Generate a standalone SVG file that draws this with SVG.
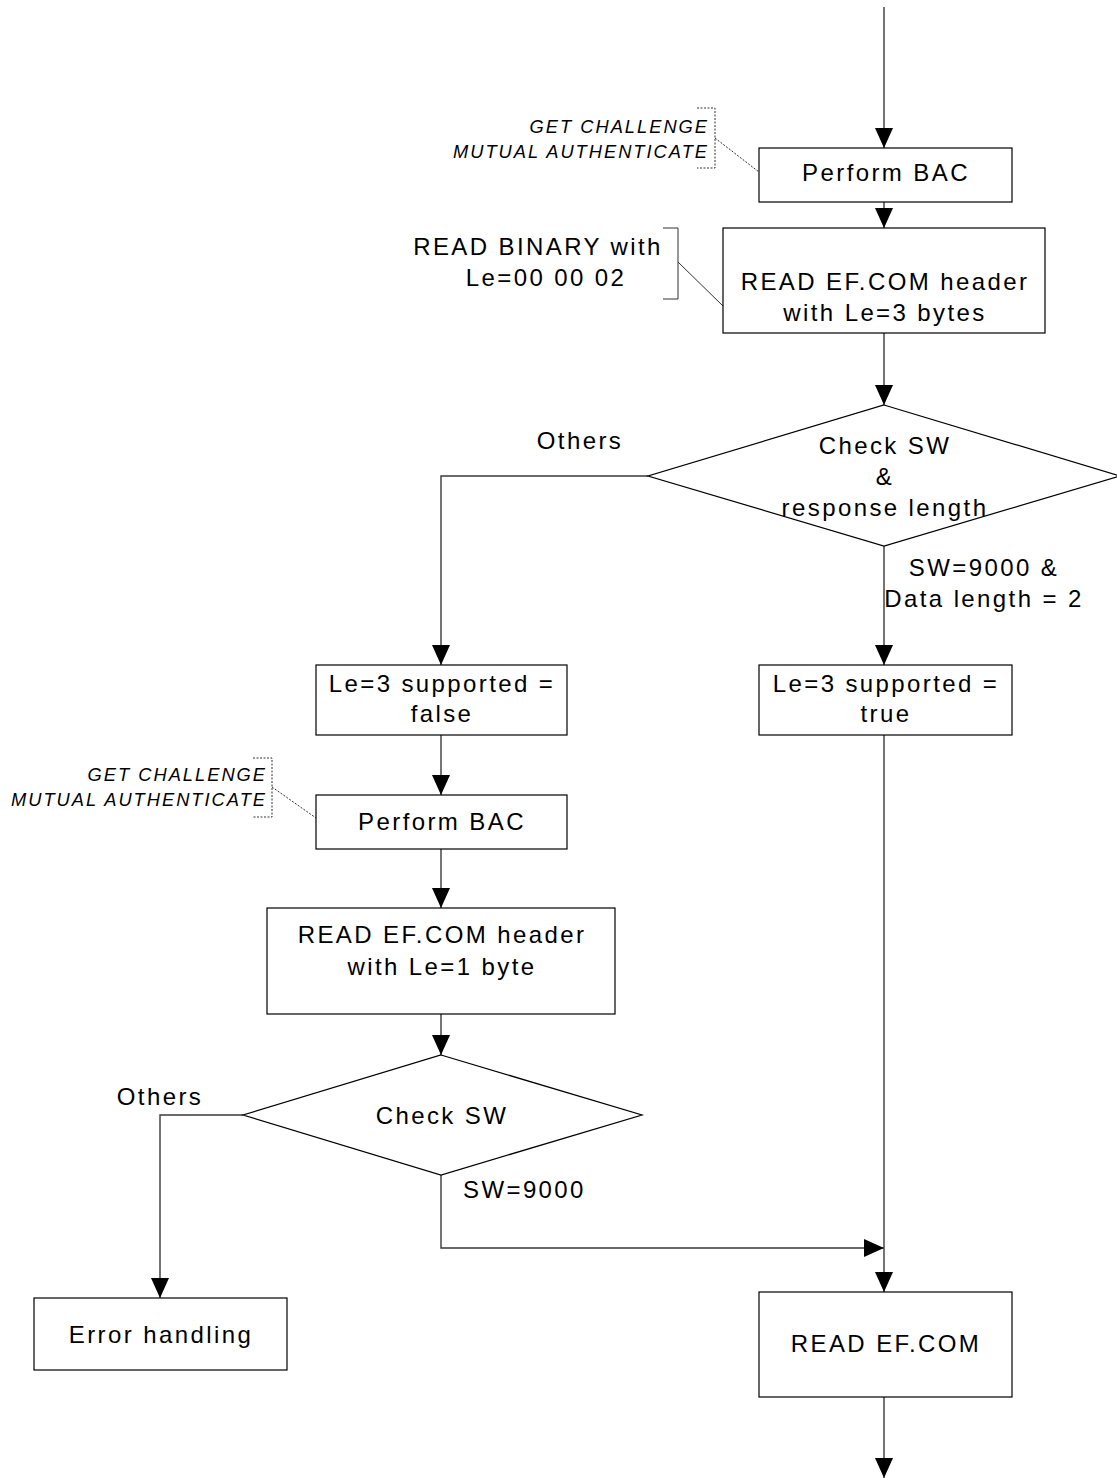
<svg xmlns="http://www.w3.org/2000/svg" width="1117" height="1481" viewBox="0 0 1117 1481">
  <defs>
    <style>
      .box { fill: #fff; stroke: #000; stroke-width: 1.2; }
      .wire { fill: none; stroke: #3a3a3a; stroke-width: 1.4; }
      .note { fill: none; stroke: #333; stroke-width: 1; }
      .dot { fill: none; stroke: #333; stroke-width: 1; stroke-dasharray: 2 1.5; }
      .t { font-family: "Liberation Sans", Arial, sans-serif; font-size: 24px; letter-spacing: 2.4px; fill: #000; text-anchor: middle; }
      .l { text-anchor: start; }
      .i { font-family: "Liberation Sans", Arial, sans-serif; font-size: 18.3px; font-style: italic; letter-spacing: 2px; fill: #000; text-anchor: end; }
    </style>
    <marker id="arrow" markerUnits="userSpaceOnUse" markerWidth="20" markerHeight="20" viewBox="0 0 20 20" refX="20" refY="10" orient="auto">
      <path d="M0,1 L20,10 L0,19 Z" fill="#000"/>
    </marker>
  </defs>
  <rect width="1117" height="1481" fill="#fff"/>

  <!-- connectors -->
  <g id="connectors">
    <line class="wire" x1="884" y1="7" x2="884" y2="148" marker-end="url(#arrow)"/>
    <line class="wire" x1="884" y1="202" x2="884" y2="228" marker-end="url(#arrow)"/>
    <line class="wire" x1="884" y1="333" x2="884" y2="405" marker-end="url(#arrow)"/>
    <polyline class="wire" points="648,476 441,476 441,665" marker-end="url(#arrow)"/>
    <line class="wire" x1="884" y1="546" x2="884" y2="665" marker-end="url(#arrow)"/>
    <line class="wire" x1="441" y1="735" x2="441" y2="795" marker-end="url(#arrow)"/>
    <line class="wire" x1="441" y1="849" x2="441" y2="908" marker-end="url(#arrow)"/>
    <line class="wire" x1="441" y1="1014" x2="441" y2="1055" marker-end="url(#arrow)"/>
    <polyline class="wire" points="243,1115 160,1115 160,1298" marker-end="url(#arrow)"/>
    <polyline class="wire" points="441,1175 441,1248 884,1248" marker-end="url(#arrow)"/>
    <line class="wire" x1="884" y1="735" x2="884" y2="1292" marker-end="url(#arrow)"/>
    <line class="wire" x1="884" y1="1397" x2="884" y2="1478" marker-end="url(#arrow)"/>
  </g>

  <!-- annotations -->
  <g id="note-bac-1">
    <text class="i" x="709" y="133">GET CHALLENGE</text>
    <text class="i" x="709" y="158">MUTUAL AUTHENTICATE</text>
    <polyline class="dot" points="697,108 715,108 715,168 697,168"/>
    <line class="dot" x1="715" y1="138" x2="759" y2="172"/>
  </g>
  <g id="note-read-binary">
    <text class="t" x="538" y="254.5">READ BINARY with</text>
    <text class="t" x="546" y="285.5">Le=00 00 02</text>
    <polyline class="note" points="663,228 678,228 678,299 663,299"/>
    <line class="note" x1="678" y1="262" x2="723" y2="306"/>
  </g>
  <g id="note-bac-2">
    <text class="i" x="267" y="781">GET CHALLENGE</text>
    <text class="i" x="267" y="806">MUTUAL AUTHENTICATE</text>
    <polyline class="dot" points="253,758 272,758 272,817 253,817"/>
    <line class="dot" x1="272" y1="787" x2="316" y2="818"/>
  </g>

  <!-- nodes -->
  <g id="perform-bac-1">
    <rect class="box" x="759" y="148" width="253" height="54"/>
    <text class="t" x="886" y="180.5">Perform BAC</text>
  </g>
  <g id="read-header-3">
    <rect class="box" x="723" y="228" width="322" height="105"/>
    <text class="t" x="885" y="289.5">READ EF.COM header</text>
    <text class="t" x="885" y="320.5">with Le=3 bytes</text>
  </g>
  <g id="check-sw-length">
    <polygon class="box" points="884,405 1120,476 884,546 648,476"/>
    <text class="t" x="885" y="453.5">Check SW</text>
    <text class="t" x="885" y="484.5">&amp;</text>
    <text class="t" x="885" y="515.5">response length</text>
  </g>
  <text class="t" x="580" y="448.5">Others</text>
  <text class="t" x="984" y="575.5">SW=9000 &amp;</text>
  <text class="t" x="984" y="606.5">Data length = 2</text>
  <g id="le3-false">
    <rect class="box" x="316" y="665" width="251" height="70"/>
    <text class="t" x="442" y="691.5">Le=3 supported =</text>
    <text class="t" x="442" y="721.5">false</text>
  </g>
  <g id="le3-true">
    <rect class="box" x="759" y="665" width="253" height="70"/>
    <text class="t" x="886" y="691.5">Le=3 supported =</text>
    <text class="t" x="886" y="721.5">true</text>
  </g>
  <g id="perform-bac-2">
    <rect class="box" x="316" y="795" width="251" height="54"/>
    <text class="t" x="442" y="829.5">Perform BAC</text>
  </g>
  <g id="read-header-1">
    <rect class="box" x="267" y="908" width="348" height="106"/>
    <text class="t" x="442" y="942.5">READ EF.COM header</text>
    <text class="t" x="442" y="974.5">with Le=1 byte</text>
  </g>
  <g id="check-sw">
    <polygon class="box" points="441,1055 642,1115 441,1175 243,1115"/>
    <text class="t" x="442" y="1123.5">Check SW</text>
  </g>
  <text class="t" x="160" y="1104.5">Others</text>
  <text class="t l" x="463" y="1197.5">SW=9000</text>
  <g id="error-handling">
    <rect class="box" x="34" y="1298" width="253" height="72"/>
    <text class="t" x="161" y="1342.5">Error handling</text>
  </g>
  <g id="read-ef-com">
    <rect class="box" x="759" y="1292" width="253" height="105"/>
    <text class="t" x="886" y="1351.5">READ EF.COM</text>
  </g>
</svg>
